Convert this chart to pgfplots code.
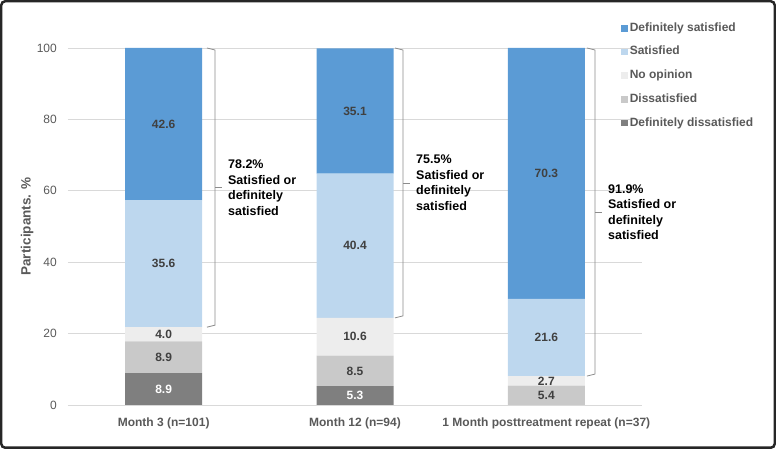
\documentclass[border=0pt]{standalone}
\usepackage{pgfplots}
\pgfplotsset{compat=1.18}
\usepackage{fontspec}
\setmainfont{Liberation Sans}
\definecolor{cdsat}{HTML}{5B9BD5}
\definecolor{csat}{HTML}{BDD7EE}
\definecolor{cnoop}{HTML}{EDEDED}
\definecolor{cdis}{HTML}{C9C9C9}
\definecolor{cddis}{HTML}{7F7F7F}
\definecolor{gridc}{HTML}{D9D9D9}
\definecolor{tickc}{HTML}{595959}
\definecolor{valc}{HTML}{404040}
\definecolor{brc}{HTML}{8C8C8C}
\definecolor{framec}{HTML}{262626}
\pgfplotsset{sqleg/.style={legend image code/.code={\fill[##1] (0pt,-3.3pt) rectangle (6.6pt,3.3pt);}}}
\tikzset{vl/.style={font=\fontsize{12}{14}\selectfont\bfseries, text=valc, inner sep=0pt},
         vlw/.style={font=\fontsize{12}{14}\selectfont\bfseries, text=white, inner sep=0pt}}
\newcommand{\brk}[5]{%
  \draw[brc, line width=0.8pt] ([xshift=-8pt]axis cs:#1,#3) -- ([yshift=-2pt]axis cs:#1,#3) -- ([yshift=2pt]axis cs:#1,#2) -- ([xshift=-8pt]axis cs:#1,#2);
  \draw[brc, line width=0.8pt] (axis cs:#1,#4) -- ++(7pt,0pt);
  \node[anchor=west, align=left, inner sep=0pt, font=\fontsize{12.5}{15.5}\selectfont\bfseries, text=black] at ([xshift=13pt]axis cs:#1,#4) {#5};}
\begin{document}
\begin{tikzpicture}
\path (-68pt,-44pt) rectangle (708pt,405pt);
\begin{axis}[
  at={(0pt,0pt)}, anchor=south west,
  scale only axis, width=574pt, height=357pt,
  ybar stacked, bar width=77pt,
  xmin=-0.5, xmax=2.5, ymin=0, ymax=100,
  xtick={0,1,2},
  xticklabels={Month 3 (n=101), Month 12 (n=94), 1 Month posttreatment repeat (n=37)},
  ytick={0,20,40,60,80,100},
  ymajorgrids, major grid style={draw=gridc, line width=0.75pt},
  axis line style={draw=none}, major tick length=0pt,
  tick label style={font=\fontsize{12}{14}\selectfont, text=tickc},
  /pgf/number format/assume math mode=true,
  xticklabel style={font=\fontsize{12}{14}\selectfont\bfseries, inner sep=0pt, anchor=north, yshift=-12.5pt},
  yticklabel style={inner sep=0pt, anchor=east, xshift=-11pt},
  ylabel={Participants. \%},
  ylabel style={at={(axis description cs:-0.0714,0.5)}, anchor=center, font=\fontsize{13.5}{16}\selectfont\bfseries, text=tickc},
  clip=false,
  reverse legend,
  legend cell align=left,
  legend style={at={(0.9634,1.0784)}, anchor=north west, draw=none, fill=none, inner sep=0pt,
    row sep=7.7pt, font=\fontsize{12}{14}\selectfont\bfseries,
    nodes={inner sep=2pt, text height=9pt, text depth=3pt, text=tickc}},
]
\addplot[fill=cddis, draw=none, sqleg] coordinates {(0,8.9) (1,5.3) (2,0)};
\addplot[fill=cdis, draw=none, sqleg] coordinates {(0,8.9) (1,8.5) (2,5.4)};
\addplot[fill=cnoop, draw=none, sqleg] coordinates {(0,4.0) (1,10.6) (2,2.7)};
\addplot[fill=csat, draw=none, sqleg] coordinates {(0,35.6) (1,40.4) (2,21.6)};
\addplot[fill=cdsat, draw=none, sqleg] coordinates {(0,42.6) (1,35.1) (2,70.3)};
\legend{Definitely dissatisfied, Dissatisfied, No opinion, Satisfied, Definitely satisfied}

% segment centres
\coordinate (a1) at (axis cs:0,4.45);
\coordinate (a2) at (axis cs:0,13.35);
\coordinate (a3) at (axis cs:0,19.8);
\coordinate (a4) at (axis cs:0,39.6);
\coordinate (a5) at (axis cs:0,78.7);
\coordinate (b1) at (axis cs:1,2.65);
\coordinate (b2) at (axis cs:1,9.55);
\coordinate (b3) at (axis cs:1,19.1);
\coordinate (b4) at (axis cs:1,44.6);
\coordinate (b5) at (axis cs:1,82.35);
\coordinate (c2) at (axis cs:2,2.7);
\coordinate (c3) at (axis cs:2,6.75);
\coordinate (c4) at (axis cs:2,18.9);
\coordinate (c5) at (axis cs:2,64.85);

\brk{0.268}{21.8}{100}{60.9}{78.2\%\\Satisfied or\\definitely\\satisfied}
\brk{1.251}{24.4}{100}{62.2}{75.5\%\\Satisfied or\\definitely\\satisfied}
\brk{2.254}{8.1}{100}{54.05}{91.9\%\\Satisfied or\\definitely\\satisfied}
\end{axis}
\node[vlw] at (a1) {8.9};
\node[vl] at (a2) {8.9};
\node[vl] at (a3) {4.0};
\node[vl] at (a4) {35.6};
\node[vl] at (a5) {42.6};
\node[vlw] at (b1) {5.3};
\node[vl] at (b2) {8.5};
\node[vl] at (b3) {10.6};
\node[vl] at (b4) {40.4};
\node[vl] at (b5) {35.1};
\node[vl] at (c2) {5.4};
\node[vl] at (c3) {2.7};
\node[vl] at (c4) {21.6};
\node[vl] at (c5) {70.3};
\draw[framec, line width=2.5pt, rounded corners=4pt] (-66.75pt,-42.75pt) rectangle (706.75pt,403.75pt);
\end{tikzpicture}
\end{document}
